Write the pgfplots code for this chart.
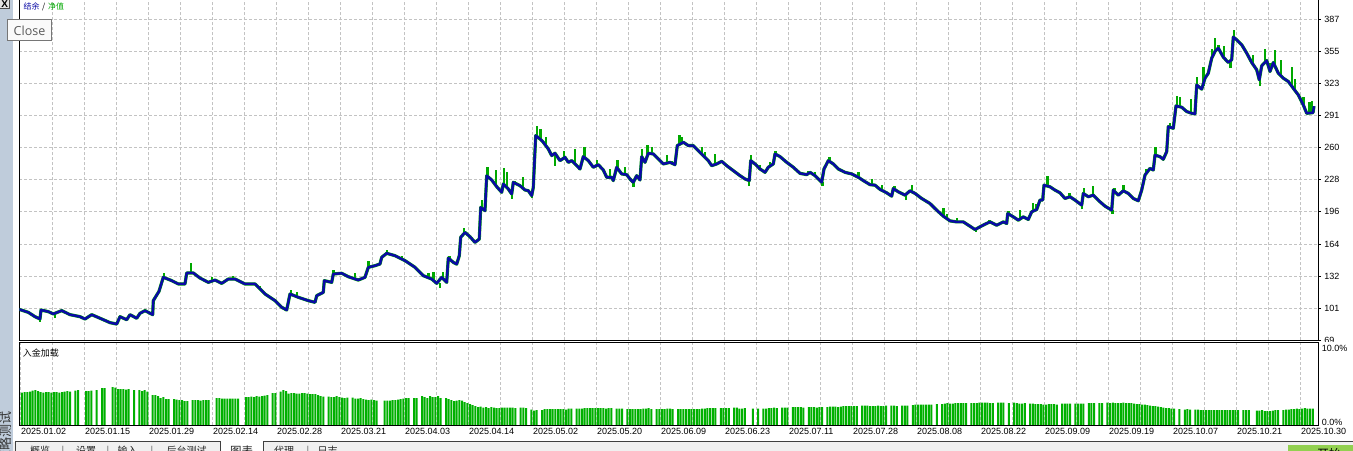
\documentclass[border=0pt]{standalone}
\usepackage{pgfplots}
\pgfplotsset{compat=1.18}
\usepackage{pgfplotstable}
\usepackage{fontspec}
\setmainfont{Liberation Sans}
\newfontfamily\cjk{Noto Sans CJK SC}
\newfontfamily\osans{Open Sans}
\definecolor{bal}{RGB}{10,10,165}
\definecolor{eq}{RGB}{0,168,0}
\definecolor{barg}{RGB}{0,176,0}
\definecolor{gridc}{RGB}{195,195,195}
\definecolor{strip}{RGB}{191,204,219}
\definecolor{tabbg}{RGB}{240,240,240}
\definecolor{btn}{RGB}{146,208,80}
\definecolor{tipb}{RGB}{118,118,118}
\definecolor{tipt}{RGB}{90,90,90}

% balance curve: x in screen pixels, y in account units
\pgfplotstableread[row sep=\\]{
x y\\
19.3 99.6\\ 20 99.4\\ 28.3 96.7\\ 35 92.4\\ 40 90.1\\ 41 99.0\\ 48.3 97.4\\ 53.3 95.1\\ 61.7 98.4\\ 70 94.4\\
80 92.4\\ 85 90.1\\ 91.7 94.4\\ 101.7 90.1\\ 110 86.5\\ 116.7 85.1\\ 120 92.4\\ 126.7 89.4\\ 130 94.4\\ 136.7 90.8\\
140 95.7\\ 145 98.4\\ 152.7 94.4\\ 153.3 108.3\\ 159 117.5\\ 163.3 131.4\\ 171.7 128.1\\ 178.3 124.8\\ 185 124.8\\ 186.7 135.7\\
193.3 135.7\\ 200 130.7\\ 208.3 126.4\\ 215 128.7\\ 221.7 125.4\\ 228.3 129.7\\ 235 129.7\\ 245 124.8\\ 255 124.8\\ 265 114.9\\
275 108.3\\ 281.7 101.7\\ 286.7 99.0\\ 290 114.9\\ 298.3 111.6\\ 308.3 108.3\\ 315 106.6\\ 316.7 113.2\\ 323.3 116.5\\ 324.3 128.1\\
331.7 126.4\\ 333.3 134.7\\ 341.7 135.4\\ 348.3 132.0\\ 358.3 128.7\\ 365 131.4\\ 368.3 141.3\\ 375 142.9\\ 380 144.6\\ 381.7 151.2\\
386.7 155.2\\ 395 152.8\\ 405 147.9\\ 415 141.3\\ 423.3 133.0\\ 431.7 129.7\\ 436.7 125.4\\ 441.7 131.4\\ 446.7 126.4\\ 448.3 150.5\\
453.3 146.2\\ 456.7 144.5\\ 459.3 152.8\\ 460.7 171.0\\ 465 175.9\\ 470 171.6\\ 475 166.0\\ 479.3 169.3\\ 480.7 200.7\\ 485 197.4\\
486.7 232.1\\ 491.7 227.8\\ 496.7 221.2\\ 501.7 215.6\\ 503.3 223.9\\ 508.3 218.9\\ 511.7 213.9\\ 513.3 225.5\\ 520 222.2\\ 525 217.9\\
528.3 217.2\\ 531.7 212.3\\ 533.3 220.5\\ 535.7 271.8\\ 540 268.5\\ 543.3 265.2\\ 548.3 258.6\\ 551.7 252.0\\ 555 254.3\\ 560 247.0\\
565 250.3\\ 568.3 245.3\\ 571.7 247.0\\ 576.7 242.0\\ 580 238.7\\ 583.3 251.0\\ 588.3 247.0\\ 593.3 240.4\\ 598.3 243.0\\ 603.3 237.7\\
606.7 230.5\\ 611.7 230.5\\ 613.3 227.2\\ 616.7 240.4\\ 621.7 233.8\\ 626.7 233.1\\ 630 228.8\\ 633.3 225.5\\ 636.7 232.1\\ 640 227.8\\
641.7 251.0\\ 645 245.3\\ 648.3 254.3\\ 653.3 253.6\\ 658.3 248.6\\ 663.3 243.7\\ 670 245.3\\ 675 243.0\\ 677.3 261.9\\ 683.3 265.2\\
688.3 261.9\\ 693.3 261.9\\ 698.3 256.9\\ 703.3 252.0\\ 708.3 247.0\\ 711.7 242.0\\ 716.7 243.7\\ 721.7 246.3\\ 726.7 242.0\\ 733.3 237.1\\
740 232.1\\ 745 228.8\\ 749.3 227.2\\ 750.7 247.0\\ 755 243.7\\ 760 238.7\\ 765 235.4\\ 768.3 240.4\\ 773.3 243.7\\ 775 253.6\\
780 251.0\\ 786.7 245.3\\ 793.3 240.4\\ 800 234.4\\ 806.7 233.1\\ 810 235.4\\ 815 232.1\\ 820 227.2\\ 821.7 225.5\\ 824 238.7\\
828.3 247.0\\ 833.3 243.7\\ 838.3 238.7\\ 845 235.4\\ 851.7 233.8\\ 858.3 230.5\\ 863.3 227.2\\ 870 223.2\\ 875 222.7\\ 880 218.5\\
886.7 215.1\\ 891.7 211.8\\ 893.3 219.4\\ 898.3 216.1\\ 905 212.8\\ 910 217.1\\ 915 214.5\\ 921.7 209.5\\ 930 204.5\\ 936.7 197.9\\
943.3 192.0\\ 950 187.3\\ 956.7 186.3\\ 963.3 186.3\\ 970 182.0\\ 975 178.7\\ 980 181.4\\ 985 184.0\\ 990 186.3\\ 996.7 183.0\\
1003.3 186.3\\ 1006.7 184.7\\ 1007.7 194.6\\ 1013.3 191.3\\ 1018.3 188.0\\ 1023.3 191.3\\ 1028.3 188.7\\ 1031.7 196.3\\ 1036.7 198.6\\ 1040 207.9\\
1042.7 207.9\\ 1044 222.7\\ 1050 221.1\\ 1055 217.8\\ 1060 215.1\\ 1065 209.5\\ 1070 211.2\\ 1075 207.9\\ 1081.7 202.9\\ 1083.3 214.5\\
1088.3 211.2\\ 1093.3 212.8\\ 1100 206.2\\ 1105 201.9\\ 1111.7 197.9\\ 1113.3 217.8\\ 1118.3 212.8\\ 1123.3 217.1\\ 1128.3 214.5\\ 1133.3 209.5\\
1138.3 207.2\\ 1141.7 217.8\\ 1145 232.7\\ 1150 239.3\\ 1153.3 237.7\\ 1155 252.5\\ 1160 250.9\\ 1163.3 248.3\\ 1166.7 255.9\\ 1168.3 280.7\\
1173.3 279.0\\ 1176 301.2\\ 1181.7 299.9\\ 1186.7 295.6\\ 1191.7 293.9\\ 1195 293.3\\ 1196.7 322.0\\ 1201.7 317.8\\ 1205 328.7\\ 1208.3 333.6\\
1211.7 348.5\\ 1215 355.2\\ 1218.3 358.5\\ 1223.3 349.5\\ 1228.3 344.2\\ 1231.7 346.9\\ 1233.3 369.4\\ 1236.7 366.7\\ 1241.7 361.8\\ 1246.7 353.5\\
1251.7 344.2\\ 1256.7 337.0\\ 1259.3 327.0\\ 1261.7 340.9\\ 1266.7 346.2\\ 1270 335.3\\ 1273.3 344.2\\ 1278.3 333.6\\ 1283.3 328.7\\ 1288.3 325.4\\
1293.3 318.7\\ 1298.3 312.1\\ 1303.3 302.2\\ 1306.7 293.9\\ 1313 294.5\\ 1314 300.9\\
}\balancetab

% equity spikes: x low high
\pgfplotstableread[row sep=\\]{
x lo hi\\
40 87.6 90.5\\ 55 90.9 95.0\\ 164 131.0 135.3\\ 191 135.7 145.2\\ 211.7 127.5 132.0\\ 233 129.7 133.0\\ 260 119.9 123.0\\
291 114.6 118.7\\ 296.7 112.5 116.4\\ 333.3 134.7 138.6\\ 355 129.8 135.3\\ 368.3 141.3 147.2\\ 386.7 155.2 158.0\\ 401.7 149.8 153.0\\
428.3 131.0 135.6\\ 433.3 128.5 136.3\\ 440 120.7 125.4\\ 442.7 130.5 136.3\\ 449.5 147.5 152.8\\ 464 175.0 180.2\\ 481.7 199.5 208.0\\
487.3 231.5 241.0\\ 496 222.0 237.7\\ 503.8 223.5 239.7\\ 506.7 220.5 235.4\\ 511.7 209.0 214.0\\ 515 224.7 227.2\\ 522.7 220.5 230.5\\
531.7 209.6 212.3\\ 537 271.0 281.7\\ 540.5 268.0 278.4\\ 546 261.5 270.8\\ 555 242.0 254.0\\ 564 249.6 256.9\\ 575 243.0 258.6\\
584.5 250.0 260.9\\ 596.7 242.2 247.7\\ 610 230.5 238.7\\ 617.5 239.5 247.7\\ 625 233.3 240.4\\ 633.3 221.2 225.5\\ 642.2 250.5 258.6\\
647.3 252.0 262.9\\ 651.7 253.8 260.2\\ 666.7 244.5 252.9\\ 671.7 244.5 247.0\\ 679.3 262.9 272.8\\ 681.5 264.3 270.8\\ 701.7 253.6 260.2\\
705 250.0 255.3\\ 715 243.1 253.6\\ 749 222.2 227.2\\ 751.2 246.7 252.9\\ 760 238.7 243.0\\ 770 241.7 245.3\\ 775.5 253.4 256.5\\
808.3 234.0 237.1\\ 815 232.1 235.4\\ 822.5 222.2 225.5\\ 829.3 246.3 250.3\\ 858.3 230.5 235.4\\ 871.7 223.0 228.8\\ 881.7 217.6 222.8\\
894.5 219.0 222.0\\ 906 207.9 213.6\\ 911.7 216.2 222.8\\ 943.3 192.0 199.6\\ 947 189.6 194.6\\ 956.7 186.3 189.7\\ 976 176.4 179.2\\
989.3 186.0 188.5\\ 1008.3 194.0 197.0\\ 1020 189.0 197.9\\ 1032.7 196.7 205.2\\ 1036 198.3 204.5\\ 1047.3 222.0 231.7\\ 1069.3 211.0 215.1\\
1082 198.6 203.0\\ 1084 214.3 219.4\\ 1092.7 212.6 221.8\\ 1112.5 194.6 198.0\\ 1114.5 216.5 219.4\\ 1123.3 217.1 222.8\\ 1146 234.0 238.3\\
1155.5 252.3 260.8\\ 1170 280.0 284.0\\ 1177 301.0 311.1\\ 1180 300.3 310.5\\ 1190.7 294.2 307.8\\ 1197.2 321.7 330.3\\ 1203.3 321.0 339.6\\
1212 348.8 357.5\\ 1215 355.2 368.4\\ 1218.3 358.5 361.8\\ 1224 348.8 360.1\\ 1230.5 338.6 346.3\\ 1234 369.0 376.7\\ 1252.7 342.8 351.9\\
1259.8 321.1 328.0\\ 1265 344.5 357.5\\ 1270.5 336.5 343.6\\ 1275 341.2 356.1\\ 1281 331.0 346.9\\ 1291.7 320.8 339.6\\ 1295 316.5 327.7\\
1303.3 302.2 309.8\\ 1309.3 294.2 305.5\\ 1312 294.5 306.4\\
}\spiketab

% deposit load bars (height in panel pixels, 82.5 = 10%), one per slot
\pgfplotstableread[row sep=\\]{
h\\
32.5\\ 33\\ 33\\ 33.5\\ 34.5\\ 35\\ 34\\ 33\\ 32.5\\ 33\\
33\\ 32.5\\ 33\\ 33\\ 32.5\\ 33\\ 33.5\\ 34\\ 33.5\\ 0\\
34.5\\ 35\\ 0\\ 0\\ 34\\ 34\\ 34.5\\ 0\\ 35\\ 0\\
37\\ 37\\ 0\\ 0\\ 38\\ 37.5\\ 36\\ 36\\ 36\\ 35.5\\
36\\ 0\\ 35\\ 0\\ 35\\ 34\\ 35\\ 33.5\\ 0\\ 30\\
30\\ 29\\ 27\\ 28\\ 26\\ 26\\ 0\\ 26\\ 25.5\\ 25\\
25\\ 24\\ 24\\ 0\\ 25\\ 25\\ 25\\ 24.5\\ 25\\ 25\\
25\\ 0\\ 0\\ 27\\ 27\\ 26.5\\ 26.5\\ 26.5\\ 26.5\\ 26.5\\
26.5\\ 26.5\\ 0\\ 0\\ 28\\ 28\\ 28.5\\ 28\\ 29\\ 28.5\\
29\\ 29.5\\ 30\\ 0\\ 32\\ 32\\ 0\\ 33.5\\ 35\\ 34\\
31.5\\ 32\\ 32\\ 31.5\\ 31.5\\ 32\\ 32\\ 31.5\\ 31\\ 31\\
31\\ 30\\ 29\\ 28.5\\ 0\\ 28.5\\ 28\\ 28\\ 29\\ 28\\
27.5\\ 27\\ 27.5\\ 0\\ 27.5\\ 26.5\\ 26.5\\ 27\\ 26\\ 25.5\\
25\\ 25.5\\ 25\\ 24.5\\ 0\\ 0\\ 24.5\\ 24.5\\ 24.5\\ 25\\
25\\ 25.5\\ 26\\ 26.5\\ 27\\ 27\\ 0\\ 27\\ 27\\ 0\\
29\\ 28\\ 27\\ 29\\ 28\\ 28\\ 29\\ 27\\ 0\\ 27\\
26\\ 25\\ 24\\ 24.5\\ 25\\ 24.5\\ 23\\ 22\\ 21\\ 20\\
19\\ 18\\ 18.5\\ 17.5\\ 18\\ 17\\ 18\\ 17.5\\ 17\\ 17\\
17.5\\ 17.5\\ 17.5\\ 17.5\\ 17.5\\ 17\\ 0\\ 17.5\\ 17.5\\ 17\\
0\\ 15.5\\ 14.5\\ 15\\ 0\\ 15\\ 16\\ 16\\ 16\\ 16\\
16\\ 16\\ 16\\ 16\\ 15.5\\ 16.5\\ 16.5\\ 0\\ 16.5\\ 16.5\\
16.5\\ 17\\ 17\\ 17\\ 17\\ 17\\ 17\\ 17\\ 17\\ 16.5\\
17\\ 17\\ 0\\ 16.5\\ 16.5\\ 16.5\\ 0\\ 16\\ 16\\ 16\\
16\\ 16\\ 16\\ 16.5\\ 16.5\\ 17\\ 16\\ 0\\ 16\\ 16\\
16\\ 16\\ 16.5\\ 16.5\\ 16\\ 0\\ 16\\ 16\\ 16\\ 16\\
16\\ 16\\ 16\\ 16\\ 16\\ 16.5\\ 16.5\\ 17\\ 17\\ 17\\
17\\ 0\\ 17\\ 17\\ 17\\ 17\\ 0\\ 17.5\\ 17.5\\ 16.5\\
16.5\\ 17\\ 0\\ 0\\ 16.5\\ 0\\ 16.5\\ 0\\ 16.5\\ 16.5\\
17\\ 17\\ 17.5\\ 17\\ 0\\ 17.5\\ 17.5\\ 17.5\\ 0\\ 18\\
18\\ 18\\ 18\\ 17.5\\ 0\\ 18\\ 18\\ 18\\ 17.5\\ 18\\
18\\ 0\\ 18\\ 18.5\\ 18.5\\ 18.5\\ 18\\ 18.5\\ 19\\ 19\\
19\\ 19\\ 19\\ 19\\ 0\\ 19.5\\ 19.5\\ 19.5\\ 19\\ 19\\
19\\ 19.5\\ 19\\ 19\\ 19.5\\ 0\\ 19.5\\ 19.5\\ 19\\ 0\\
19.5\\ 19.5\\ 19.5\\ 0\\ 20\\ 20.5\\ 20.5\\ 20.5\\ 20.5\\ 20.5\\
20.5\\ 20.5\\ 0\\ 21\\ 0\\ 21\\ 21.5\\ 22\\ 21.5\\ 21.5\\
22\\ 22\\ 22\\ 22\\ 22\\ 0\\ 22\\ 22\\ 22\\ 22.5\\
22.5\\ 22.5\\ 22.5\\ 22\\ 22\\ 0\\ 22.5\\ 22.5\\ 22.5\\ 0\\
22\\ 0\\ 22.5\\ 22\\ 21.5\\ 21.5\\ 22\\ 0\\ 21.5\\ 21.5\\
21\\ 21\\ 21\\ 20.5\\ 20.5\\ 21\\ 21\\ 21\\ 20.5\\ 0\\
21.5\\ 21.5\\ 21.5\\ 21.5\\ 0\\ 21.5\\ 21.5\\ 21.5\\ 21.5\\ 0\\
22\\ 22\\ 22\\ 0\\ 22\\ 22\\ 0\\ 22.5\\ 22\\ 22.5\\
22\\ 22\\ 22\\ 22.5\\ 22\\ 22\\ 22\\ 21.5\\ 21\\ 21\\
20.5\\ 20.5\\ 20\\ 19.5\\ 19\\ 19\\ 18.5\\ 18\\ 17.5\\ 17\\
17\\ 16.5\\ 16.5\\ 0\\ 16\\ 0\\ 15.5\\ 16\\ 15.5\\ 0\\
15.5\\ 15.5\\ 15\\ 15\\ 15\\ 15\\ 15\\ 15\\ 15\\ 15\\
15\\ 15\\ 15\\ 15\\ 15\\ 15\\ 15\\ 0\\ 15\\ 15\\
15\\ 0\\ 0\\ 14.5\\ 14.5\\ 15\\ 14\\ 14\\ 14\\ 14.5\\
15\\ 15\\ 0\\ 15\\ 15.5\\ 15.5\\ 16\\ 16\\ 16.5\\ 16\\
16.5\\ 17\\ 16.5\\ 16.5\\ 16.5\\
}\loadtab

\begin{document}
\begin{tikzpicture}
\useasboundingbox (0,0) rectangle (1353bp,451bp);
\clip (0,0) rectangle (1353bp,451bp);
\fill[white] (0,0) rectangle (1353bp,451bp);

% ---------- main balance / equity panel ----------
\begin{axis}[
  at={(19.3bp,110.5bp)}, anchor=south west,
  scale only axis, width=1298.7bp, height=342.5bp,
  xmin=19.3, xmax=1318, ymin=68.8, ymax=408.1,
  axis line style={black, line width=1bp},
  xtick={52.3,84.3,...,1300.3}, xticklabels={},
  xtick style={draw=none},
  ytick={69,100.8,132.6,164.4,196.2,228,259.8,291.6,323.4,355.2,387},
  yticklabels={69,101,132,164,196,228,260,291,323,355,387},
  ytick pos=right, yticklabel pos=right,
  ytick style={black, line width=0.8bp},
  major tick length=3bp, tick align=outside,
  yticklabel style={anchor=west, inner sep=0pt, xshift=3.2bp, font=\fontsize{9bp}{10bp}\selectfont},
  grid=major,
  major grid style={gridc, dash pattern=on 3bp off 2bp, line width=0.8bp},
]
\addplot[eq, line width=3.2bp, line join=round] table[x=x, y=y] {\balancetab};
\addplot[draw=none, mark=none,
  error bars/.cd, y dir=plus, y explicit, error mark=none,
  error bar style={eq, line width=2.4bp}]
  table[x=x, y=lo, y error expr=\thisrow{hi}-\thisrow{lo}] {\spiketab};
\addplot[bal, line width=2.5bp, line join=round] table[x=x, y=y] {\balancetab};
\end{axis}

\fill[white] (1319bp,105bp) rectangle (1353bp,109bp);

% ---------- deposit load panel ----------
\begin{axis}[
  at={(19.3bp,26bp)}, anchor=south west,
  scale only axis, width=1298.7bp, height=82.5bp,
  xmin=19.3, xmax=1318, ymin=0, ymax=82.5,
  axis line style={black, line width=1bp},
  xtick={20.3,84.3,...,1300.3},
  xticklabels={2025.01.02,2025.01.15,2025.01.29,2025.02.14,2025.02.28,2025.03.21,2025.04.03,2025.04.14,2025.05.02,2025.05.20,2025.06.09,2025.06.23,2025.07.11,2025.07.28,2025.08.08,2025.08.22,2025.09.09,2025.09.19,2025.10.07,2025.10.21,2025.10.30},
  minor xtick={52.3,116.3,...,1268.3},
  xmajorgrids, xminorgrids,
  major grid style={gridc, dash pattern=on 3bp off 2bp, line width=0.8bp},
  minor grid style={gridc, dash pattern=on 3bp off 2bp, line width=0.8bp},
  major tick length=0pt, minor tick length=0pt,
  xticklabel style={anchor=north west, inner sep=0pt, xshift=0.6bp, yshift=-3.5bp, font=\fontsize{9bp}{10bp}\selectfont},
  ytick={3,76.7}, yticklabels={0.0\%,10.0\%},
  ytick pos=right, yticklabel pos=right,
  yticklabel style={anchor=west, inner sep=0pt, xshift=3.7bp, font=\fontsize{9bp}{10bp}\selectfont},
]
\addplot[ybar, bar width=2, bar shift=0pt, fill=barg, draw=none]
  table[x expr=22+2.667*\coordindex, y=h] {\loadtab};
\end{axis}

% ---------- panel captions ----------
\node[anchor=west, inner sep=0pt] at (23.3bp,444.6bp)
  {\cjk\fontsize{8bp}{9bp}\selectfont\textcolor{bal}{结余}\hspace{2.5bp}\textcolor{black}{/}\hspace{3bp}\textcolor{eq}{净值}};
\node[anchor=west, inner sep=0pt] at (22.7bp,97.5bp)
  {\cjk\fontsize{9bp}{10bp}\selectfont 入金加载};

% ---------- window chrome ----------
\fill[strip] (0,0) rectangle (12.7bp,451bp);
\fill[gray!22] (0,442.5bp) rectangle (9.3bp,451bp);
\draw[gray!60!black, line width=0.8bp] (9.3bp,451bp) -- (9.3bp,442.5bp) -- (0,442.5bp);
\node[inner sep=0pt] at (4.7bp,446.9bp) {\fontsize{10bp}{10bp}\selectfont\bfseries X};
\node[rotate=90, anchor=east, inner sep=0pt, text={black!80}] at (6bp,40bp)
  {\cjk\fontsize{13bp}{13bp}\selectfont 策略测试};

\filldraw[fill={rgb,255:red,250;green,250;blue,250}, draw=tipb, line width=0.8bp]
  (7.3bp,410.3bp) rectangle (51.7bp,431.7bp);
\node[inner sep=0pt, text=tipt] at (29.5bp,420.6bp) {\osans\fontsize{12.5bp}{13bp}\selectfont Close};

% bottom tab bar
\fill[tabbg] (12.7bp,0) rectangle (1353bp,9.3bp);
\fill[white] (220.7bp,0) rectangle (263.3bp,9.6bp);
\draw[black!75, line width=0.8bp] (15bp,0) -- (15bp,9.3bp) -- (220.7bp,9.3bp) -- (220.7bp,0);
\draw[black!75, line width=0.8bp] (263.3bp,0) -- (263.3bp,9.3bp) -- (1353bp,9.3bp);
\begin{scope}[every node/.style={inner sep=0pt, text=black!85}]
\node at (40bp,0.5bp) {\cjk\fontsize{10bp}{10bp}\selectfont 概览};
\node[text=black!55] at (63bp,0.5bp) {\fontsize{10bp}{10bp}\selectfont |};
\node at (86bp,0.5bp) {\cjk\fontsize{10bp}{10bp}\selectfont 设置};
\node[text=black!55] at (108bp,0.5bp) {\fontsize{10bp}{10bp}\selectfont |};
\node at (127.5bp,0.5bp) {\cjk\fontsize{10bp}{10bp}\selectfont 输入};
\node[text=black!55] at (152bp,0.5bp) {\fontsize{10bp}{10bp}\selectfont |};
\node at (186.5bp,0.5bp) {\cjk\fontsize{10bp}{10bp}\selectfont 后台测试};
\node at (241.5bp,-0.3bp) {\cjk\fontsize{11.5bp}{11.5bp}\selectfont 图表};
\node at (284bp,0.5bp) {\cjk\fontsize{10bp}{10bp}\selectfont 代理};
\node[text=black!55] at (308bp,0.5bp) {\fontsize{10bp}{10bp}\selectfont |};
\node at (327.5bp,0.5bp) {\cjk\fontsize{10bp}{10bp}\selectfont 日志};
\end{scope}
\fill[btn] (1288bp,0) rectangle (1353bp,5.8bp);
\node[inner sep=0pt] at (1329bp,-2.5bp) {\cjk\fontsize{12bp}{12bp}\selectfont 开始};
\end{tikzpicture}
\end{document}
